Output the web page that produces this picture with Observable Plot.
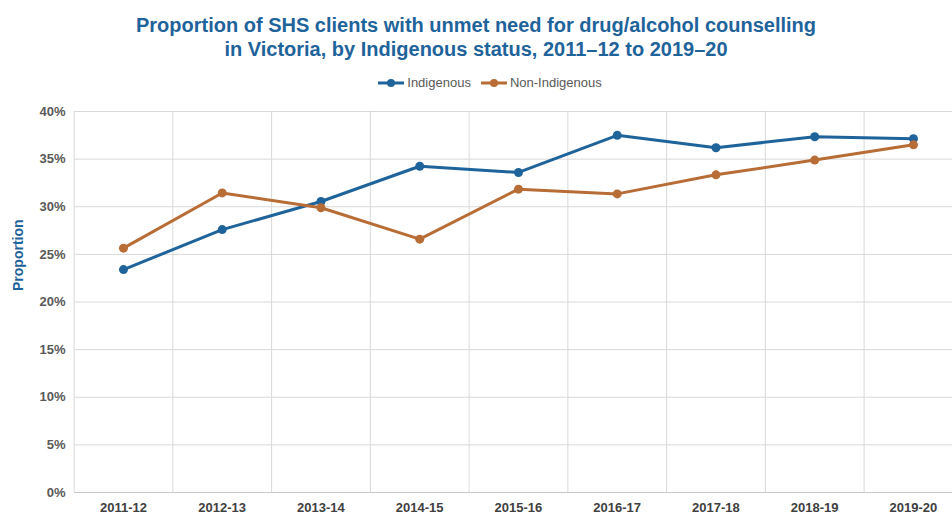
<!DOCTYPE html>
<html>
<head>
<meta charset="utf-8">
<script src="https://cdn.jsdelivr.net/npm/d3@7"></script>
<script src="https://cdn.jsdelivr.net/npm/@observablehq/plot@0.6"></script>
<style>
  body { margin: 0; background: #fff; font-family: Arial, "Liberation Sans", sans-serif; }
  #wrap { width: 952px; }
  #title { height: 57px; padding-top: 13px; text-align: center; font-size: 20px; font-weight: bold; color: #1f639b; line-height: 24px; }
  #legend { height: 25px; display: flex; justify-content: center; align-items: center; gap: 10px; font-size: 13px; color: #595959; padding-left: 28px; box-sizing: border-box; }
  #legend span.item { display: flex; align-items: center; gap: 3px; }
  svg { display: block; }
</style>
</head>
<body>
<div id="wrap">
  <div id="title">Proportion of SHS clients with unmet need for drug/alcohol counselling<br>in Victoria, by Indigenous status, 2011–12 to 2019–20</div>
  <div id="legend"></div>
  <div id="chart"></div>
</div>
<script>
const categories = ["2011-12","2012-13","2013-14","2014-15","2015-16","2016-17","2017-18","2018-19","2019-20"];
const seriesNames = ["Indigenous", "Non-Indigenous"];
const indigenous = [23.4, 27.6, 30.55, 34.25, 33.6, 37.5, 36.2, 37.35, 37.15];
const nonIndigenous = [25.65, 31.45, 29.9, 26.6, 31.85, 31.35, 33.35, 34.9, 36.5];
const yTicks = [0, 5, 10, 15, 20, 25, 30, 35, 40];
const colors = ["#1f639b", "#b86c36"];

const data = [];
categories.forEach((c, i) => {
  data.push({i, cat: c, series: seriesNames[0], value: indigenous[i]});
  data.push({i, cat: c, series: seriesNames[1], value: nonIndigenous[i]});
});
const boundaries = d3.range(categories.length + 1).map(i => i - 0.5);

// legend
const legend = document.getElementById("legend");
seriesNames.forEach((s, k) => {
  const item = document.createElement("span");
  item.className = "item";
  item.innerHTML = `<svg width="26" height="10"><line x1="0" x2="26" y1="5" y2="5" stroke="${colors[k]}" stroke-width="3"/><circle cx="13" cy="5" r="4" fill="${colors[k]}"/></svg><span>${s}</span>`;
  legend.appendChild(item);
});

const n = categories.length;
const chart = Plot.plot({
  width: 952,
  height: 420,
  marginTop: 16,
  marginBottom: 23,
  marginLeft: 74,
  marginRight: 0,
  style: {fontFamily: "Arial, 'Liberation Sans', sans-serif", fontSize: "13px", overflow: "hidden"},
  x: {type: "linear", domain: [-0.5, n - 0.5], range: [73.6, 73.6 + 98.75 * n]},
  y: {domain: [0, 40]},
  color: {domain: seriesNames, range: colors},
  marks: [
    Plot.gridY(yTicks, {stroke: "#d9d9d9", strokeOpacity: 1, strokeWidth: 1}),
    Plot.ruleX(boundaries, {y1: 0, y2: 40, stroke: "#d9d9d9", strokeWidth: 1}),
    Plot.ruleY([0], {stroke: "#c8c8c8", strokeWidth: 1}),
    Plot.axisY(yTicks, {tickSize: 0, tickPadding: 9, tickFormat: d => d + "%", fill: "#595959", fontWeight: "bold", fontSize: 13, label: null}),
    Plot.axisX(d3.range(n), {tickSize: 0, tickPadding: 10, tickFormat: i => categories[i], fill: "#404040", fontWeight: "bold", fontSize: 13, label: null}),
    Plot.text(["Proportion"], {frameAnchor: "left", rotate: -90, dx: -56, dy: -11, fill: "#1f639b", fontWeight: "bold", fontSize: 14}),
    Plot.line(data, {x: "i", y: "value", stroke: "series", z: "series", strokeWidth: 3}),
    Plot.dot(data, {x: "i", y: "value", fill: "series", r: 4.5})
  ]
});
document.getElementById("chart").appendChild(chart);
</script>
</body>
</html>
